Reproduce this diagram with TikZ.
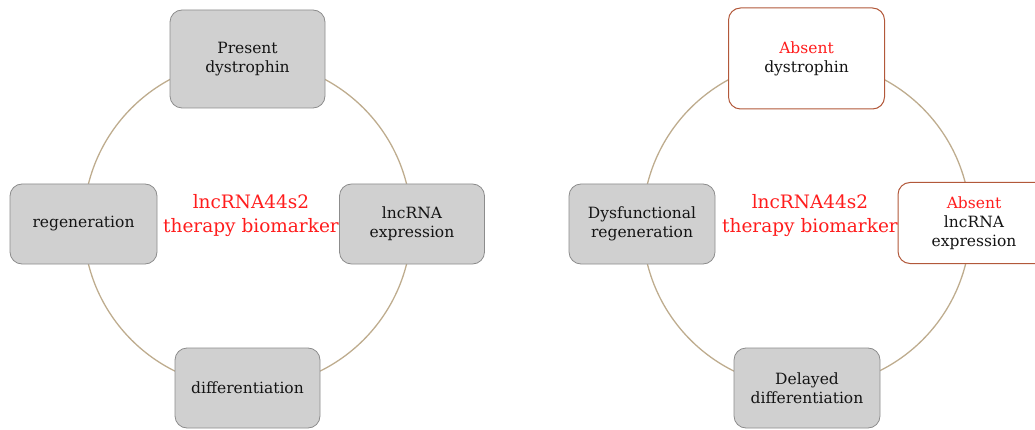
\documentclass[tikz,border=0pt]{standalone}
\usepackage{fontspec}
\setmainfont{DejaVu Serif}
\usepackage{xcolor}
\definecolor{ringtan}{RGB}{190,172,142}
\definecolor{boxgray}{RGB}{208,208,208}
\definecolor{hotred}{RGB}{255,28,28}
\definecolor{rust}{RGB}{178,88,58}

\begin{document}
\begin{tikzpicture}[x=1pt, y=-1pt,
    state/.style={rectangle, rounded corners=12pt, draw=black!45, fill=boxgray, line width=0.8pt, minimum width=145pt, minimum height=80pt, align=center, font=\fontsize{15.5}{19}\selectfont, text=black!92},
    absent/.style={state, draw=rust, fill=white, line width=1pt},
    hub/.style={align=center, text=hotred, font=\fontsize{18.5}{24}\selectfont},
    ring/.style={draw=ringtan, line width=1.3pt}]
\clip (0,0) rectangle (1035,430);
% centres of the rings
\coordinate (lc) at (247.5,224);
\coordinate (rc) at (806.5,224);
% rings
\draw[ring] (lc) circle[radius=164pt];
\draw[ring] (rc) circle[radius=164pt];
% left cycle
\node[state, minimum width=155pt, minimum height=98pt] (pdys) at (247.5,59) {Present\\dystrophin};
\node[state, minimum width=147pt] (lreg) at (83.5,224) {regeneration};
\node[state] (lexp) at (412,224) {lncRNA\\expression};
\node[state] (ldif) at (247.5,388) {differentiation};
\node[hub] (lhub) at (251,216) {lncRNA44s2\\therapy biomarker};
% right cycle
\node[absent, minimum width=156pt, minimum height=101pt] (adys) at (806.5,58.5) {\textcolor{hotred}{Absent}\\dystrophin};
\node[state, minimum width=146pt] (rreg) at (642,224) {Dysfunctional\\regeneration};
\node[absent, minimum width=152pt, minimum height=81pt] (aexp) at (974,223) {\textcolor{hotred}{Absent}\\lncRNA\\expression};
\node[state, minimum width=146pt] (rdif) at (807,388) {Delayed\\differentiation};
\node[hub] (rhub) at (810,216) {lncRNA44s2\\therapy biomarker};
\end{tikzpicture}
\end{document}
